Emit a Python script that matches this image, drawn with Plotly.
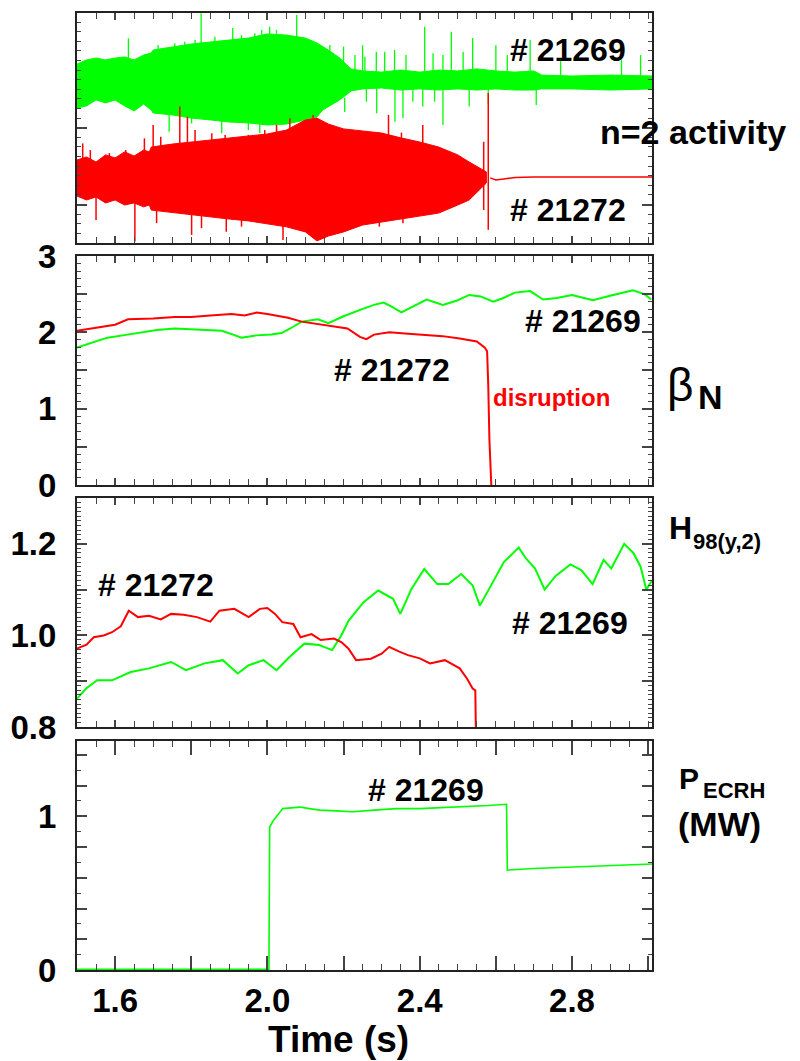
import plotly.graph_objects as go

GREEN = "#00ff00"
RED = "#ff0000"
FONT = "Liberation Sans, Arial, Helvetica, sans-serif"

# ---------------- n=2 activity (arbitrary units) ----------------
# shot 21269: envelope of the Mirnov signal
g_up_t = [1.50, 1.525, 1.55, 1.575, 1.60, 1.625, 1.65, 1.675, 1.695, 1.70, 1.75, 1.80,
          1.85, 1.90, 1.95, 2.00, 2.05, 2.10, 2.13, 2.16, 2.19, 2.22, 2.25, 2.30, 2.35,
          2.40, 2.45, 2.50, 2.55, 2.60, 2.65, 2.70, 2.72, 2.80, 2.90, 3.01]
g_up = [7.78, 7.96, 8.04, 7.96, 8.04, 8.09, 7.96, 8.17, 8.26, 8.39, 8.52, 8.65,
        8.74, 8.83, 8.91, 9.09, 9.04, 8.91, 8.70, 8.39, 8.04, 7.57, 7.48, 7.43, 7.52,
        7.43, 7.52, 7.48, 7.57, 7.48, 7.43, 7.48, 7.30, 7.26, 7.30, 7.26]
g_lo_t = [1.50, 1.525, 1.55, 1.575, 1.60, 1.625, 1.65, 1.675, 1.695, 1.70, 1.75, 1.80,
          1.85, 1.90, 1.95, 2.00, 2.05, 2.10, 2.13, 2.145, 2.16, 2.19, 2.22, 2.25, 2.30,
          2.35, 2.40, 2.45, 2.50, 2.55, 2.60, 2.65, 2.70, 2.72, 2.80, 2.90, 3.01]
g_lo = [5.87, 5.96, 6.22, 6.09, 6.22, 5.96, 5.74, 6.04, 5.78, 5.65, 5.57, 5.43,
        5.35, 5.26, 5.22, 5.13, 5.17, 5.35, 5.48, 5.78, 5.91, 6.22, 6.61, 6.70, 6.74,
        6.65, 6.70, 6.65, 6.70, 6.65, 6.70, 6.65, 6.65, 6.70, 6.70, 6.65, 6.70]
# isolated spikes of shot 21269: time, bottom, top
g_sp_t = [1.635, 1.713, 1.742, 1.757, 1.783, 1.801, 1.810, 1.826, 1.862, 1.880, 1.909,
          1.932, 1.950, 1.967, 1.980, 1.985, 2.006, 2.024, 2.077, 2.164, 2.200, 2.203,
          2.230, 2.250, 2.256, 2.260, 2.286, 2.287, 2.308, 2.334, 2.335, 2.356, 2.364,
          2.382, 2.408, 2.413, 2.435, 2.439, 2.461, 2.483, 2.514, 2.530, 2.539, 2.580,
          2.600, 2.630, 2.690, 2.706, 2.770, 2.930, 2.980]
g_sp_lo = [7.0, 8.0, 4.84, 8.2, 8.3, 5.20, 8.4, 8.4, 8.5, 4.77, 8.6,
           8.6, 4.91, 8.7, 4.77, 8.8, 8.9, 8.9, 8.8, 8.2, 7.9, 5.70,
           7.5, 7.4, 7.4, 6.14, 7.4, 5.64, 7.4, 7.4, 5.27, 5.43, 7.4,
           6.14, 5.93, 7.0, 7.4, 6.14, 5.13, 6.8, 7.4, 5.93, 7.4, 6.04,
           7.4, 7.4, 7.4, 6.00, 7.2, 7.2, 7.2]
g_sp_hi = [8.90, 8.61, 5.80, 8.68, 8.75, 5.80, 8.83, 9.99, 8.97, 5.60, 9.35,
           9.04, 5.50, 9.12, 5.50, 9.26, 9.40, 9.26, 9.91, 8.61, 8.54, 6.30,
           8.17, 8.60, 8.10, 6.80, 8.32, 6.80, 8.32, 8.39, 6.80, 6.80, 8.17,
           6.80, 6.80, 9.40, 8.25, 6.80, 8.17, 9.19, 8.32, 6.80, 8.91, 6.80,
           8.60, 8.17, 8.83, 6.80, 7.96, 7.96, 8.17]

# shot 21272: envelope up to the disruption
r_t = [1.50, 1.525, 1.55, 1.575, 1.60, 1.625, 1.65, 1.675, 1.69, 1.695, 1.75, 1.80,
       1.85, 1.90, 1.95, 2.00, 2.05, 2.10, 2.13, 2.16, 2.20, 2.25, 2.30, 2.35, 2.40,
       2.45, 2.50, 2.53, 2.555, 2.575]
r_up = [3.61, 3.74, 3.52, 3.83, 3.70, 3.96, 3.78, 4.04, 3.96, 4.17, 4.30, 4.39,
        4.48, 4.57, 4.65, 4.74, 4.91, 5.35, 5.43, 5.17, 4.96, 4.87, 4.78, 4.57, 4.39,
        4.17, 3.83, 3.52, 3.30, 3.09]
r_lo = [2.04, 1.87, 2.00, 1.74, 1.87, 1.65, 1.74, 1.57, 1.65, 1.43, 1.30, 1.22,
        1.13, 1.04, 0.96, 0.83, 0.70, 0.48, 0.09, 0.30, 0.48, 0.78, 0.91, 1.04, 1.17,
        1.30, 1.65, 1.87, 2.30, 2.61]
r_sp_t = [1.515, 1.535, 1.550, 1.585, 1.628, 1.652, 1.677, 1.700, 1.709, 1.720, 1.770,
          1.790, 1.801, 1.810, 1.827, 1.854, 1.889, 1.892, 1.932, 1.950, 1.993, 2.024,
          2.041, 2.059, 2.120, 2.207, 2.243, 2.294, 2.318, 2.352, 2.356, 2.408, 2.461,
          2.568, 2.580]
r_sp_lo = [3.0, 3.0, 1.00, 3.0, 3.0, 0.06, 3.0, 3.5, 0.86, 3.5, 3.5,
           3.5, 0.35, 3.5, 0.64, 3.5, 3.5, 0.49, 0.71, 3.5, 3.5, 3.5,
           0.13, 3.5, 4.5, 0.57, 4.0, 0.71, 4.3, 4.0, 0.86, 4.0, 1.43,
           1.43, 0.57]
r_sp_hi = [4.33, 4.04, 2.50, 3.91, 4.04, 3.50, 4.55, 5.13, 1.60, 4.62, 5.93,
           5.49, 2.00, 4.91, 2.00, 4.77, 4.70, 2.00, 2.00, 4.70, 4.91, 5.13,
           2.00, 5.42, 5.57, 2.00, 4.77, 2.00, 5.57, 4.80, 2.00, 5.13, 2.00,
           4.40, 6.52]
# quiet signal after the disruption
r_post_t = [2.585, 2.60, 2.62, 2.65, 2.70, 2.80, 2.90, 3.01]
r_post = [2.83, 2.74, 2.78, 2.85, 2.87, 2.87, 2.87, 2.87]

# ---------------- normalised beta ----------------
bn_r_t = [1.50, 1.55, 1.60, 1.634, 1.70, 1.757, 1.80, 1.85, 1.906, 1.94, 1.972, 2.00,
          2.054, 2.09, 2.16, 2.21, 2.243, 2.26, 2.28, 2.32, 2.37, 2.418, 2.46, 2.505,
          2.55, 2.571, 2.577, 2.580, 2.583, 2.588]
bn_r = [2.02, 2.06, 2.10, 2.17, 2.18, 2.20, 2.20, 2.22, 2.24, 2.22, 2.26, 2.24,
        2.19, 2.14, 2.09, 2.05, 1.94, 1.91, 1.97, 2.00, 1.98, 1.96, 1.95, 1.92,
        1.88, 1.80, 1.75, 1.30, 0.60, 0.00]
bn_g_t = [1.50, 1.54, 1.58, 1.62, 1.67, 1.71, 1.757, 1.80, 1.845, 1.88, 1.91, 1.932,
          1.97, 2.01, 2.037, 2.06, 2.09, 2.133, 2.16, 2.20, 2.247, 2.28, 2.305, 2.325,
          2.352, 2.39, 2.418, 2.461, 2.50, 2.53, 2.56, 2.593, 2.62, 2.65, 2.69, 2.724,
          2.76, 2.80, 2.855, 2.90, 2.96, 2.99, 3.008]
bn_g = [1.80, 1.87, 1.93, 1.96, 2.00, 2.03, 2.05, 2.04, 2.03, 2.02, 1.97, 1.93,
        1.96, 1.97, 1.99, 2.05, 2.14, 2.17, 2.12, 2.21, 2.30, 2.36, 2.39, 2.34,
        2.26, 2.36, 2.43, 2.36, 2.42, 2.49, 2.47, 2.40, 2.45, 2.52, 2.54, 2.43,
        2.45, 2.49, 2.42, 2.48, 2.55, 2.50, 2.43]

# ---------------- confinement factor H98(y,2) ----------------
h_r_t = [1.50, 1.525, 1.544, 1.57, 1.592, 1.615, 1.636, 1.66, 1.689, 1.72, 1.747, 1.78,
         1.815, 1.85, 1.874, 1.913, 1.951, 1.98, 2.00, 2.02, 2.039, 2.068, 2.087, 2.116,
         2.14, 2.175, 2.195, 2.213, 2.233, 2.272, 2.30, 2.32, 2.345, 2.369, 2.40, 2.427,
         2.466, 2.49, 2.505, 2.524, 2.539, 2.546, 2.549]
h_r = [0.971, 0.980, 0.996, 1.000, 1.007, 1.020, 1.054, 1.040, 1.043, 1.035, 1.047, 1.045,
       1.040, 1.030, 1.054, 1.058, 1.040, 1.058, 1.060, 1.047, 1.029, 1.025, 0.996, 1.003,
       0.990, 0.993, 0.985, 0.971, 0.946, 0.949, 0.960, 0.975, 0.965, 0.957, 0.950, 0.939,
       0.946, 0.935, 0.928, 0.906, 0.884, 0.880, 0.700]
h_g_t = [1.50, 1.524, 1.553, 1.592, 1.641, 1.689, 1.747, 1.786, 1.835, 1.883, 1.922, 1.951,
         1.99, 2.024, 2.058, 2.097, 2.136, 2.17, 2.194, 2.213, 2.252, 2.291, 2.33, 2.349,
         2.378, 2.412, 2.446, 2.475, 2.509, 2.539, 2.558, 2.582, 2.621, 2.66, 2.679, 2.703,
         2.728, 2.757, 2.796, 2.825, 2.854, 2.883, 2.903, 2.937, 2.961, 2.98, 2.995, 3.01]
h_g = [0.862, 0.884, 0.902, 0.902, 0.920, 0.928, 0.942, 0.924, 0.939, 0.946, 0.917, 0.935,
       0.946, 0.924, 0.953, 0.982, 0.979, 0.968, 1.000, 1.032, 1.072, 1.098, 1.080, 1.047,
       1.101, 1.145, 1.112, 1.112, 1.134, 1.109, 1.065, 1.101, 1.160, 1.192, 1.168, 1.146,
       1.100, 1.130, 1.155, 1.142, 1.112, 1.165, 1.146, 1.200, 1.180, 1.150, 1.100, 1.120]

# ---------------- ECRH power (MW), shot 21269 ----------------
p_t = [1.50, 2.004, 2.006, 2.015, 2.04, 2.085, 2.11, 2.138, 2.18, 2.225, 2.28, 2.339,
       2.40, 2.45, 2.523, 2.58, 2.628, 2.630, 2.70, 2.80, 2.90, 3.01]
p_ecrh = [0.005, 0.005, 0.93, 0.97, 1.05, 1.06, 1.05, 1.04, 1.035, 1.03, 1.04, 1.05,
          1.05, 1.055, 1.06, 1.07, 1.078, 0.65, 0.66, 0.67, 0.68, 0.69]

X_RANGE = [1.5, 3.01]
X_TICKS = [1.6, 1.8, 2.0, 2.2, 2.4, 2.6, 2.8, 3.0]
X_TEXT = ["1.6", "", "2.0", "", "2.4", "", "2.8", ""]


def band(tu, up, tl, lo):
    return tu + tl[::-1], up + lo[::-1]


def spikes(ts, los, his):
    xs, ys = [], []
    for t, a, b in zip(ts, los, his):
        xs += [t, t, None]
        ys += [a, b, None]
    return xs, ys


fig = go.Figure()

# panel 1: n=2 activity
bx, by = band(g_up_t, g_up, g_lo_t, g_lo)
fig.add_trace(go.Scatter(x=bx, y=by, fill="toself", fillcolor=GREEN, mode="lines",
                         line=dict(color=GREEN, width=1), xaxis="x", yaxis="y"))
sx, sy = spikes(g_sp_t, g_sp_lo, g_sp_hi)
fig.add_trace(go.Scatter(x=sx, y=sy, mode="lines", line=dict(color=GREEN, width=1.3),
                         xaxis="x", yaxis="y"))
bx, by = band(r_t, r_up, r_t, r_lo)
fig.add_trace(go.Scatter(x=bx, y=by, fill="toself", fillcolor=RED, mode="lines",
                         line=dict(color=RED, width=1), xaxis="x", yaxis="y"))
sx, sy = spikes(r_sp_t, r_sp_lo, r_sp_hi)
fig.add_trace(go.Scatter(x=sx, y=sy, mode="lines", line=dict(color=RED, width=1.5),
                         xaxis="x", yaxis="y"))
fig.add_trace(go.Scatter(x=r_post_t, y=r_post, mode="lines", line=dict(color=RED, width=1.5),
                         xaxis="x", yaxis="y"))

# panel 2: beta_N
fig.add_trace(go.Scatter(x=bn_g_t, y=bn_g, mode="lines", line=dict(color=GREEN, width=2),
                         xaxis="x2", yaxis="y2"))
fig.add_trace(go.Scatter(x=bn_r_t, y=bn_r, mode="lines", line=dict(color=RED, width=2),
                         xaxis="x2", yaxis="y2"))

# panel 3: H98(y,2)
fig.add_trace(go.Scatter(x=h_g_t, y=h_g, mode="lines", line=dict(color=GREEN, width=2),
                         xaxis="x3", yaxis="y3"))
fig.add_trace(go.Scatter(x=h_r_t, y=h_r, mode="lines", line=dict(color=RED, width=2),
                         xaxis="x3", yaxis="y3"))

# panel 4: ECRH power
fig.add_trace(go.Scatter(x=p_t, y=p_ecrh, mode="lines", line=dict(color=GREEN, width=1.6),
                         xaxis="x4", yaxis="y4"))

frame = dict(showline=True, linecolor="#222", linewidth=2, mirror="ticks", ticks="inside",
             tickcolor="#444", tickwidth=1.5, showgrid=False, zeroline=False,
             automargin=False)
tfont = dict(family=FONT, size=33, color="black", weight="bold")


def xax(anchor, labels):
    d = dict(frame, range=X_RANGE, anchor=anchor, tickvals=X_TICKS, ticktext=X_TEXT,
             ticklen=14 if labels else 7, showticklabels=labels, tickfont=tfont,
             minor=dict(dtick=0.05, tick0=1.5, ticklen=6, ticks="inside",
                        tickcolor="#444", tickwidth=1.2))
    if labels:
        d["ticklabelstandoff"] = 0
    return d


def yax(dom, rng, vals=None, text=None, minor=None, show=True):
    d = dict(frame, domain=dom, range=rng, ticklen=10, showticklabels=show, tickfont=tfont,
             ticklabelstandoff=12)
    if vals is not None:
        d["tickvals"] = vals
        d["ticktext"] = text
    if minor is not None:
        d["minor"] = dict(dtick=minor[0], tick0=minor[1], ticklen=4, ticks="inside",
                          tickcolor="#444", tickwidth=1)
    return d


D1 = [0.7597, 1.0]
D2 = [0.5068, 0.7461]
D3 = [0.2539, 0.4932]
D4 = [0.0, 0.2393]

fig.update_layout(
    width=800, height=1061,
    margin=dict(l=77, r=148, t=13, b=91, autoexpand=False),
    paper_bgcolor="white", plot_bgcolor="white",
    showlegend=False,
    font=dict(family=FONT, color="black"),
    xaxis=xax("y", False),
    xaxis2=xax("y2", False),
    xaxis3=xax("y3", False),
    xaxis4=xax("y4", True),
    yaxis=yax(D1, [0, 10], vals=[1.65, 5.0, 8.35], text=["", "", ""],
              minor=(0.4175, 0.0), show=False),
    yaxis2=yax(D2, [0, 3], vals=[0, 0.5, 1, 1.5, 2, 2.5, 3],
               text=["0", "", "1", "", "2", "", "3"], minor=(0.1, 0)),
    yaxis3=yax(D3, [0.8, 1.3], vals=[0.8, 0.9, 1.0, 1.1, 1.2],
               text=["0.8", "", "1.0", "", "1.2"], minor=(0.01, 0.8)),
    yaxis4=yax(D4, [0, 1.49], vals=[0, 0.2, 0.4, 0.6, 0.8, 1.0, 1.2, 1.4],
               text=["0", "", "", "", "", "1", "", ""], minor=(0.1, 0)),
)


def lab(text, x, y, xref, yref, size=32, color="black", xanchor="center", weight="bold"):
    fig.add_annotation(text=text, x=x, y=y, xref=xref, yref=yref, showarrow=False,
                       xanchor=xanchor, yanchor="middle",
                       font=dict(family=FONT, size=size, color=color, weight=weight))


# shot labels inside the panels
lab("# 21269", 2.789, 8.40, "x", "y")
lab("# 21272", 2.789, 1.43, "x", "y")
lab("# 21269", 2.828, 2.15, "x2", "y2")
lab("# 21272", 2.327, 1.50, "x2", "y2")
lab("disruption", 2.586, 1.15, "x2", "y2", size=24, color=RED, xanchor="left")
lab("# 21272", 1.707, 1.109, "x3", "y3")
lab("# 21269", 2.794, 1.028, "x3", "y3")
lab("# 21269", 2.416, 1.169, "x4", "y4")

# quantity names to the right of the panels
lab("n=2 activity", 0.906, 0.8757, "paper", "paper", size=34, xanchor="left")
lab("β", 1.022, 0.6113, "paper", "paper", size=46, xanchor="left", weight="normal")
lab("N", 1.076, 0.5987, "paper", "paper", size=34, xanchor="left")
lab("H", 1.026, 0.4620, "paper", "paper", size=32, xanchor="left")
lab("98(y,2)", 1.068, 0.4480, "paper", "paper", size=22, xanchor="left")
lab("P", 1.043, 0.2000, "paper", "paper", size=30, xanchor="left")
lab("ECRH", 1.085, 0.1880, "paper", "paper", size=22, xanchor="left")
lab("(MW)", 1.041, 0.1526, "paper", "paper", size=34, xanchor="left")

# x axis title
lab("Time (s)", 0.454, -0.0731, "paper", "paper", size=37)

fig.write_html("out.html")
